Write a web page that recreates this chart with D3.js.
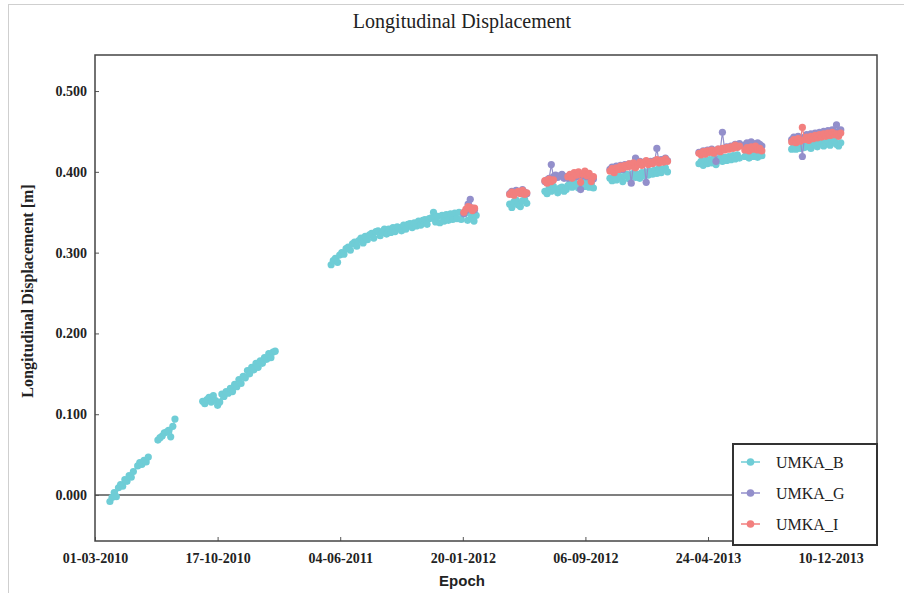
<!DOCTYPE html>
<html>
<head>
<meta charset="utf-8">
<script src="https://cdn.jsdelivr.net/npm/d3@7"></script>
<style>
  body { margin: 0; background: #fff; }
  text { fill: #222; }
</style>
</head>
<body>
<script>
// daily solutions, sampled every STEP_DAYS days; each segment = [first epoch, values in m]
const STEP_DAYS = 4

const umkaB = [
  ["2010-03-29", [-0.008, -0.003, 0.003, -0.002, 0.009, 0.013, 0.011, 0.019, 0.017, 0.024, 0.022, 0.029]],
  ["2010-05-20", [0.036, 0.040, 0.038, 0.043, 0.041, 0.047]],
  ["2010-06-27", [0.068, 0.071, 0.073, 0.077, 0.078, 0.080, 0.072, 0.085, 0.094]],
  ["2010-09-19", [0.116, 0.113, 0.118, 0.121, 0.115, 0.123, 0.117, 0.111, 0.115, 0.125, 0.122, 0.128,
                  0.126, 0.132, 0.128, 0.137, 0.134, 0.143, 0.138, 0.147, 0.145, 0.154, 0.150, 0.158,
                  0.155, 0.163, 0.158, 0.166, 0.163, 0.170, 0.168, 0.175, 0.170, 0.177, 0.178]],
  ["2011-05-18", [0.285, 0.290, 0.293, 0.288, 0.297, 0.300, 0.298, 0.305, 0.307, 0.303, 0.311, 0.313,
                  0.308, 0.315, 0.318, 0.312, 0.320, 0.316, 0.322, 0.324, 0.318, 0.326, 0.327, 0.321,
                  0.325, 0.329, 0.323, 0.329, 0.325, 0.331, 0.326, 0.332, 0.331, 0.327, 0.334, 0.329,
                  0.335, 0.336, 0.331, 0.337, 0.333, 0.339, 0.334, 0.340, 0.341, 0.335, 0.342, 0.343,
                  0.350, 0.338, 0.345, 0.337, 0.346, 0.339, 0.347, 0.340, 0.348, 0.341, 0.349, 0.342,
                  0.350, 0.341, 0.348, 0.351, 0.340, 0.349, 0.342, 0.339, 0.346]],
  ["2012-04-17", [0.360, 0.356, 0.363, 0.365, 0.359, 0.357, 0.364, 0.366, 0.361]],
  ["2012-06-22", [0.376, 0.373, 0.380, 0.376, 0.382, 0.378, 0.374, 0.380, 0.381, 0.376, 0.378]],
  ["2012-08-04", [0.383, 0.386, 0.381, 0.387, 0.384, 0.380, 0.386, 0.388, 0.382, 0.387, 0.381, 0.385, 0.380]],
  ["2012-10-22", [0.392, 0.389, 0.395, 0.390, 0.396, 0.393, 0.388, 0.395, 0.397, 0.391, 0.396, 0.398,
                  0.393, 0.397, 0.392, 0.399, 0.395, 0.400, 0.396, 0.401, 0.397, 0.402, 0.398, 0.404,
                  0.399, 0.403, 0.405, 0.400]],
  ["2013-04-07", [0.410, 0.413, 0.408, 0.414, 0.410, 0.415, 0.411, 0.416, 0.409, 0.414, 0.417, 0.413,
                  0.418, 0.414, 0.419, 0.415, 0.420, 0.416, 0.421, 0.417]],
  ["2013-07-02", [0.419, 0.422, 0.417, 0.423, 0.419, 0.424, 0.418, 0.422, 0.420]],
  ["2013-09-28", [0.428, 0.432, 0.428, 0.433, 0.429, 0.434, 0.430, 0.435, 0.431, 0.429, 0.434, 0.436,
                  0.431, 0.435, 0.437, 0.432, 0.436, 0.438, 0.433, 0.437, 0.439, 0.434, 0.432, 0.436]]
]

const umkaG = [
  ["2012-01-22", [0.348, 0.352, 0.360, 0.366, 0.355, 0.353]],
  ["2012-04-17", [0.373, 0.376, 0.374, 0.377, 0.375, 0.374, 0.378, 0.375, 0.373]],
  ["2012-06-22", [0.388, 0.390, 0.392, 0.409, 0.394, 0.396, 0.393, 0.395, 0.397, 0.392, 0.394]],
  ["2012-08-04", [0.392, 0.395, 0.393, 0.397, 0.394, 0.396, 0.378, 0.395, 0.398, 0.394, 0.396, 0.393, 0.391]],
  ["2012-10-22", [0.403, 0.406, 0.401, 0.407, 0.405, 0.408, 0.403, 0.409, 0.407, 0.410, 0.386, 0.409,
                  0.417, 0.410, 0.413, 0.409, 0.412, 0.387, 0.411, 0.413, 0.411, 0.414, 0.429, 0.412,
                  0.415, 0.413, 0.417, 0.414]],
  ["2013-04-07", [0.424, 0.422, 0.426, 0.424, 0.427, 0.425, 0.428, 0.426, 0.413, 0.428, 0.427, 0.449,
                  0.429, 0.431, 0.430, 0.432, 0.431, 0.434, 0.432, 0.435]],
  ["2013-07-02", [0.433, 0.436, 0.434, 0.437, 0.435, 0.433, 0.436, 0.434, 0.432]],
  ["2013-09-28", [0.440, 0.443, 0.439, 0.444, 0.441, 0.419, 0.443, 0.446, 0.442, 0.447, 0.444, 0.448,
                  0.445, 0.449, 0.446, 0.450, 0.447, 0.451, 0.448, 0.452, 0.449, 0.458, 0.450, 0.452]]
]

const umkaI = [
  ["2012-01-22", [0.350, 0.354, 0.357, 0.356, 0.352, 0.355]],
  ["2012-04-17", [0.372, 0.375, 0.371, 0.374, 0.376, 0.373, 0.377, 0.372, 0.374]],
  ["2012-06-22", [0.389, 0.386, 0.391, 0.388, 0.390]],
  ["2012-08-04", [0.394, 0.397, 0.392, 0.399, 0.396, 0.400, 0.387, 0.397, 0.401, 0.395, 0.398, 0.388, 0.394]],
  ["2012-10-22", [0.401, 0.404, 0.399, 0.405, 0.403, 0.407, 0.404, 0.408, 0.406, 0.410, 0.407, 0.411,
                  0.405, 0.409, 0.412, 0.408, 0.411, 0.414, 0.409, 0.412, 0.410, 0.413, 0.415, 0.411,
                  0.414, 0.412, 0.416, 0.413]],
  ["2013-04-07", [0.423, 0.421, 0.425, 0.422, 0.426, 0.424, 0.427, 0.423, 0.426, 0.428, 0.425, 0.429,
                  0.427, 0.430, 0.428, 0.431, 0.429, 0.433, 0.430, 0.432]],
  ["2013-07-02", [0.427, 0.430, 0.426, 0.431, 0.428, 0.432, 0.427, 0.429, 0.426]],
  ["2013-09-28", [0.437, 0.440, 0.436, 0.441, 0.438, 0.455, 0.440, 0.443, 0.439, 0.444, 0.441, 0.445,
                  0.442, 0.446, 0.443, 0.447, 0.444, 0.448, 0.445, 0.449, 0.446, 0.447, 0.444, 0.448]]
]

const seriesNames = ["UMKA_B", "UMKA_G", "UMKA_I"]
const seriesColors = ["#6fcdd6", "#938fcb", "#f27f7e"]
const xTickLabels = ["01-03-2010", "17-10-2010", "04-06-2011", "20-01-2012", "06-09-2012", "24-04-2013", "10-12-2013"]
const yTicks = [0.0, 0.1, 0.2, 0.3, 0.4, 0.5]

const m = { width: 904, height: 593, left: 95, right: 877, top: 55, bottom: 541 }

const parseIso = d3.utcParse("%Y-%m-%d")
const parseTick = d3.utcParse("%d-%m-%Y")
const fmtTick = d3.utcFormat("%d-%m-%Y")

function expand(segs) {
  return segs.map(function (s) {
    let start = parseIso(s[0])
    return s[1].map(function (v, i) {
      return { date: d3.utcDay.offset(start, i * STEP_DAYS), value: v }
    })
  })
}
const allSeries = [umkaB, umkaG, umkaI].map(expand)

const svg = d3.select("body").append("svg")
  .attr("width", m.width)
  .attr("height", m.height)

// light outer frame of the picture
svg.append("rect")
  .attr("x", 8.5).attr("y", 4.5)
  .attr("width", m.width).attr("height", m.height)
  .attr("fill", "none").attr("stroke", "#cfcfcf")

const x0 = parseTick(xTickLabels[0])
const xScale = d3.scaleUtc()
  .domain([x0, d3.utcDay.offset(x0, 1467)])
  .range([m.left, m.right])

const yScale = d3.scaleLinear()
  .domain([-0.0569, 0.5446])
  .range([m.bottom, m.top])

// axes with inward ticks
svg.append("g")
  .attr("transform", "translate(0," + m.bottom + ")")
  .call(d3.axisBottom(xScale)
    .tickValues(xTickLabels.map(parseTick))
    .tickFormat(fmtTick)
    .tickSizeInner(-4).tickSizeOuter(0).tickPadding(12))
  .call(function (g) {
    g.select(".domain").remove()
    g.selectAll("line").attr("stroke", "#555")
    g.selectAll("text")
      .attr("font-family", "Liberation Serif")
      .attr("font-weight", "bold")
      .attr("font-size", 14)
      .attr("fill", "#333")
  })

svg.append("g")
  .attr("transform", "translate(" + m.left + ",0)")
  .call(d3.axisLeft(yScale)
    .tickValues(yTicks)
    .tickFormat(d3.format(".3f"))
    .tickSizeInner(-4).tickSizeOuter(0).tickPadding(8))
  .call(function (g) {
    g.select(".domain").remove()
    g.selectAll("line").attr("stroke", "#555")
    g.selectAll("text")
      .attr("font-family", "Liberation Serif")
      .attr("font-weight", "bold")
      .attr("font-size", 14)
      .attr("fill", "#333")
  })

// zero line
svg.append("line")
  .attr("x1", m.left).attr("x2", m.right)
  .attr("y1", yScale(0)).attr("y2", yScale(0))
  .attr("stroke", "#555").attr("stroke-width", 1.5)

// plot frame
svg.append("rect")
  .attr("x", m.left).attr("y", m.top)
  .attr("width", m.right - m.left).attr("height", m.bottom - m.top)
  .attr("fill", "none").attr("stroke", "#444").attr("stroke-width", 1.5)

const line = d3.line()
  .x(function (d) { return xScale(d.date) })
  .y(function (d) { return yScale(d.value) })

const plot = svg.append("g")

allSeries.forEach(function (segs, si) {
  let g = plot.append("g")
  g.selectAll("path")
    .data(segs)
    .enter()
    .append("path")
    .attr("d", line)
    .attr("fill", "none")
    .attr("stroke", seriesColors[si])
    .attr("stroke-width", 1.2)

  g.selectAll("circle")
    .data(segs.flat())
    .enter()
    .append("circle")
    .attr("cx", function (d) { return xScale(d.date) })
    .attr("cy", function (d) { return yScale(d.value) })
    .attr("r", 3.6)
    .attr("fill", seriesColors[si])
})

// title and axis labels
svg.append("text")
  .attr("x", 462).attr("y", 28)
  .attr("text-anchor", "middle")
  .attr("font-family", "Liberation Serif")
  .attr("font-size", 20)
  .text("Longitudinal Displacement")

svg.append("text")
  .attr("transform", "translate(33,291) rotate(-90)")
  .attr("text-anchor", "middle")
  .attr("font-family", "Liberation Serif")
  .attr("font-weight", "bold")
  .attr("font-size", 16)
  .text("Longitudinal Displacement [m]")

svg.append("text")
  .attr("x", 462).attr("y", 586)
  .attr("text-anchor", "middle")
  .attr("font-family", "Liberation Sans")
  .attr("font-weight", "bold")
  .attr("font-size", 15)
  .text("Epoch")

// legend
const legend = svg.append("g").attr("transform", "translate(733,444)")
legend.append("rect")
  .attr("width", 144).attr("height", 101)
  .attr("fill", "#fff").attr("stroke", "#333").attr("stroke-width", 2)

const items = legend.selectAll(".item")
  .data(seriesNames)
  .enter()
  .append("g")
  .attr("transform", function (d, i) { return "translate(0," + (18 + i * 31) + ")" })

items.append("line")
  .attr("x1", 8).attr("x2", 27)
  .attr("stroke", function (d, i) { return seriesColors[i] })
  .attr("stroke-width", 1.5)
items.append("circle")
  .attr("cx", 17.5).attr("r", 3.8)
  .attr("fill", function (d, i) { return seriesColors[i] })
items.append("text")
  .attr("x", 43).attr("dy", "0.35em")
  .attr("font-family", "Liberation Serif")
  .attr("font-size", 16)
  .text(function (d) { return d })
</script>
</body>
</html>
